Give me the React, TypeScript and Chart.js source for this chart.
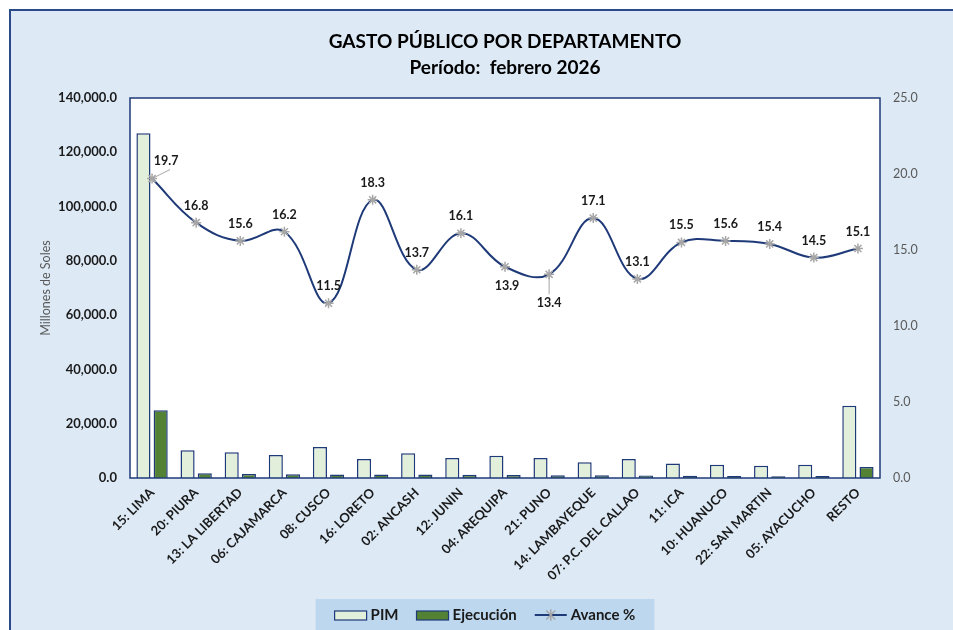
import { useEffect, useRef } from 'react';
import { Chart, registerables } from 'chart.js';

Chart.register(...registerables);

const categories = [
  '15: LIMA', '20: PIURA', '13: LA LIBERTAD', '06: CAJAMARCA', '08: CUSCO', '16: LORETO',
  '02: ANCASH', '12: JUNIN', '04: AREQUIPA', '21: PUNO', '14: LAMBAYEQUE', '07: P.C. DEL CALLAO',
  '11: ICA', '10: HUANUCO', '22: SAN MARTIN', '05: AYACUCHO', 'RESTO',
];
const pim = [127000, 10200, 9500, 8500, 11400, 7000, 9100, 7400, 8200, 7400, 5800, 7000, 5300, 4900, 4500, 4900, 26600];
const ejecucion = [25000, 1710, 1480, 1380, 1310, 1280, 1250, 1190, 1140, 990, 990, 920, 820, 760, 690, 710, 4020];
const avance = [19.7, 16.8, 15.6, 16.2, 11.5, 18.3, 13.7, 16.1, 13.9, 13.4, 17.1, 13.1, 15.5, 15.6, 15.4, 14.5, 15.1];
const titleLines = ['GASTO PÚBLICO POR DEPARTAMENTO', 'Período:  febrero 2026'];
const yTitle = 'Millones de Soles';
const legendNames = ['PIM', 'Ejecución', 'Avance %'];
const leftMax = 140000;
const leftStep = 20000;
const rightMax = 25;
const rightStep = 5;

const FONT = 'Lato, "Open Sans", sans-serif';
const NAVY = '#1f3a78';
const PIM_FILL = '#e2efda';
const EJEC_FILL = '#548235';
const STAR = '#a6a6a6';
const BG = '#ddeaf6';

const fmt1 = (v: number) =>
  v.toLocaleString('en-US', { minimumFractionDigits: 1, maximumFractionDigits: 1 });

// label placement per point: [dx, dy, leader]
const labelPlacement: Record<number, [number, number, boolean]> = {
  0: [14, -18, true],
  8: [2, 19, false],
  9: [0, 29, true],
};

const framePlugin = {
  id: 'frame',
  beforeDraw(chart: any) {
    const { ctx, width, height, chartArea } = chart;
    ctx.save();
    ctx.fillStyle = '#ffffff';
    ctx.fillRect(0, 0, width, height);
    ctx.fillStyle = BG;
    ctx.fillRect(10, 10, width - 10, height - 10);
    ctx.strokeStyle = '#2b4a8a';
    ctx.lineWidth = 2;
    ctx.beginPath();
    ctx.moveTo(10, height);
    ctx.lineTo(10, 10);
    ctx.lineTo(width, 10);
    ctx.stroke();
    ctx.fillStyle = '#ffffff';
    ctx.fillRect(chartArea.left, chartArea.top, chartArea.right - chartArea.left, chartArea.bottom - chartArea.top);
    ctx.restore();
  },
  afterDatasetsDraw(chart: any) {
    const { ctx, chartArea } = chart;
    ctx.save();
    ctx.strokeStyle = NAVY;
    ctx.lineWidth = 1.5;
    ctx.strokeRect(chartArea.left, chartArea.top, chartArea.right - chartArea.left, chartArea.bottom - chartArea.top);
    ctx.restore();
  },
};

const labelPlugin = {
  id: 'avanceLabels',
  afterDatasetsDraw(chart: any) {
    const { ctx } = chart;
    const meta = chart.getDatasetMeta(0);
    ctx.save();
    ctx.font = `bold 12.5px ${FONT}`;
    ctx.fillStyle = '#1a1a1a';
    ctx.textAlign = 'center';
    ctx.textBaseline = 'middle';
    meta.data.forEach((pt: any, i: number) => {
      const [dx, dy, leader] = labelPlacement[i] || [0, -17, false];
      if (leader) {
        ctx.strokeStyle = STAR;
        ctx.lineWidth = 1;
        ctx.beginPath();
        ctx.moveTo(pt.x, pt.y);
        if (dy < 0) ctx.lineTo(pt.x + dx + 4, pt.y + dy + 9);
        else ctx.lineTo(pt.x + dx, pt.y + dy - 9);
        ctx.stroke();
      }
      ctx.fillText(avance[i].toFixed(1), pt.x + dx, pt.y + dy);
    });
    ctx.restore();
  },
};

const legendPlugin = {
  id: 'customLegend',
  afterDraw(chart: any) {
    const { ctx } = chart;
    ctx.save();
    ctx.font = `bold 15px ${FONT}`;
    const sym = 32;
    const gapSym = 4;
    const gapItem = 18;
    const pad = 19;
    const widths = legendNames.map((n) => ctx.measureText(n).width);
    const total = widths.reduce((a, w) => a + sym + gapSym + w, 0) + gapItem * (legendNames.length - 1);
    const cx = 485;
    const boxW = total + pad * 2;
    const boxL = cx - boxW / 2;
    const top = 599;
    const cy = 615;
    ctx.fillStyle = '#bdd7ee';
    ctx.fillRect(boxL, top, boxW, 31);
    let x = boxL + pad;
    legendNames.forEach((name, i) => {
      if (i < 2) {
        ctx.fillStyle = i === 0 ? PIM_FILL : EJEC_FILL;
        ctx.fillRect(x, cy - 4, sym, 9);
        ctx.strokeStyle = NAVY;
        ctx.lineWidth = 1.2;
        ctx.strokeRect(x, cy - 4, sym, 9);
      } else {
        ctx.strokeStyle = NAVY;
        ctx.lineWidth = 2;
        ctx.beginPath();
        ctx.moveTo(x, cy);
        ctx.lineTo(x + sym, cy);
        ctx.stroke();
        const sx = x + sym / 2;
        const r = 4.5;
        ctx.strokeStyle = STAR;
        ctx.lineWidth = 1.5;
        ctx.beginPath();
        ctx.moveTo(sx - r, cy - r); ctx.lineTo(sx + r, cy + r);
        ctx.moveTo(sx + r, cy - r); ctx.lineTo(sx - r, cy + r);
        ctx.moveTo(sx, cy - r * 1.3); ctx.lineTo(sx, cy + r * 1.3);
        ctx.stroke();
      }
      ctx.fillStyle = '#1a1a1a';
      ctx.textAlign = 'left';
      ctx.textBaseline = 'middle';
      ctx.fillText(name, x + sym + gapSym, cy);
      x += sym + gapSym + widths[i] + gapItem;
    });
    ctx.restore();
  },
};

export default function App() {
  const ref = useRef<HTMLCanvasElement | null>(null);

  useEffect(() => {
    if (!ref.current) return;
    const chart = new Chart(ref.current, {
      type: 'bar',
      data: {
        labels: categories,
        datasets: [
          {
            type: 'line',
            label: legendNames[2],
            data: avance,
            yAxisID: 'y1',
            borderColor: NAVY,
            borderWidth: 2,
            tension: 0.4,
            fill: false,
            pointStyle: 'star',
            pointRadius: 5,
            pointBorderColor: STAR,
            pointBackgroundColor: STAR,
            pointBorderWidth: 1.5,
            order: 0,
          } as any,
          {
            type: 'bar',
            label: legendNames[0],
            data: pim,
            yAxisID: 'y',
            backgroundColor: PIM_FILL,
            borderColor: NAVY,
            borderWidth: 1.5,
            categoryPercentage: 0.78,
            barPercentage: 0.82,
            order: 1,
          },
          {
            type: 'bar',
            label: legendNames[1],
            data: ejecucion,
            yAxisID: 'y',
            backgroundColor: EJEC_FILL,
            borderColor: NAVY,
            borderWidth: 1.5,
            categoryPercentage: 0.78,
            barPercentage: 0.82,
            order: 2,
          },
        ],
      },
      options: {
        responsive: false,
        animation: false,
        devicePixelRatio: 1,
        layout: { padding: 0 },
        plugins: {
          legend: { display: false },
          tooltip: { enabled: false },
          title: {
            display: true,
            text: titleLines,
            fullSize: false,
            color: '#000000',
            font: { family: FONT, size: 19, weight: 'bold', lineHeight: '26px' } as any,
            padding: { top: 29, bottom: 17 },
          },
        },
        scales: {
          x: {
            grid: { display: false, drawTicks: false },
            border: { display: false },
            ticks: {
              autoSkip: false,
              minRotation: 45,
              maxRotation: 45,
              padding: 7,
              color: '#1a1a1a',
              font: { family: FONT, size: 13, weight: 'bold' },
            },
            afterFit: (s: any) => { s.height = 152; },
          },
          y: {
            position: 'left',
            min: 0,
            max: leftMax,
            grid: { display: false, drawTicks: false },
            border: { display: false },
            ticks: {
              stepSize: leftStep,
              padding: 13,
              color: '#1a1a1a',
              font: { family: FONT, size: 13, weight: 'bold' },
              callback: (v: any) => fmt1(Number(v)),
            },
            title: {
              display: true,
              text: yTitle,
              color: '#595959',
              font: { family: FONT, size: 12.5 },
              padding: { top: 38, bottom: 0 },
            },
            afterFit: (s: any) => { s.width = 130; },
          },
          y1: {
            position: 'right',
            min: 0,
            max: rightMax,
            grid: { display: false, drawTicks: false },
            border: { display: false },
            ticks: {
              stepSize: rightStep,
              padding: 13,
              color: '#595959',
              font: { family: FONT, size: 12.5 },
              callback: (v: any) => Number(v).toFixed(1),
            },
            afterFit: (s: any) => { s.width = 73; },
          },
        },
      },
      plugins: [framePlugin, labelPlugin, legendPlugin],
    });
    return () => chart.destroy();
  }, []);

  return (
    <div style={{ position: 'fixed', left: 0, top: 0, width: 953, height: 630 }}>
      <canvas ref={ref} width={953} height={630} style={{ display: 'block' }} />
    </div>
  );
}
